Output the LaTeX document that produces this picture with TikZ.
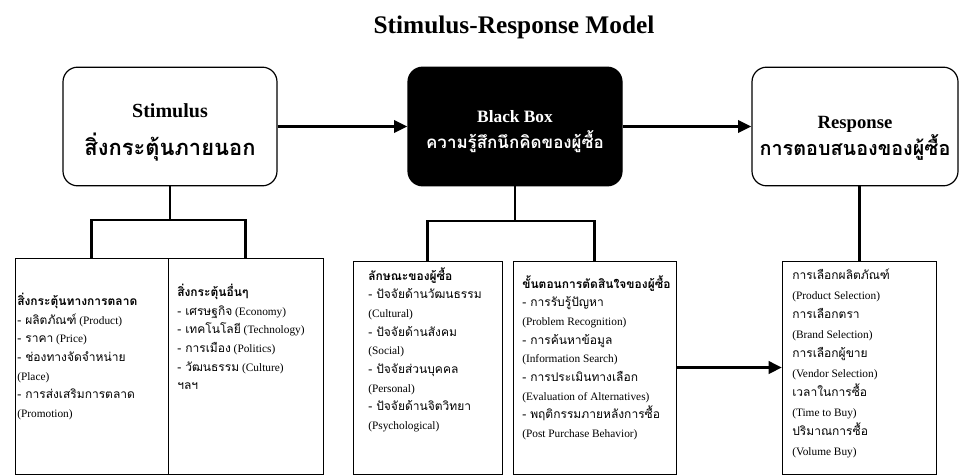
\documentclass[tikz,border=0pt]{standalone}
\usepackage{fontspec}
\setmainfont{Liberation Serif}
\newfontfamily\thaifont[Script=Thai, Scale=1.06]{Loma}
\newcommand\tha[1]{{\thaifont #1}}
\usetikzlibrary{positioning, arrows.meta, fit}
\tikzset{
topbox/.style={draw, line width=0.9pt, rounded corners=11pt, minimum width=160.5pt, minimum height=89pt, align=center}, % the three big boxes
listbox/.style={draw, line width=0.7pt, inner sep=0pt}, % the frames at the bottom
listtext/.style={inner sep=0pt, align=left, anchor=north west, font=\fontsize{8.5}{14}\selectfont}, % text inside the frames
link/.style={line width=2.2pt}, % the tree lines
arr/.style={line width=2.5pt, -{Triangle[length=10pt, width=9pt]}}, % the fat arrows
}

\begin{document}
\begin{tikzpicture}[x=0.75pt, y=-0.75pt]
        \useasboundingbox (0,0) rectangle (959,475);

        \node[font=\bfseries\fontsize{19}{22}\selectfont] (title) at (514,27) {Stimulus-Response Model};

        % top row
        \node[topbox] (stim) at (170,126.5) {{\bfseries\fontsize{15}{18}\selectfont\rule{0pt}{19pt}Stimulus}\\[10pt]\tha{\bfseries\fontsize{15.5}{18}\selectfont สิ่งกระตุ้นภายนอก}};
        \node[topbox, fill=black, text=white] (bb) at (515,126.5) {{\bfseries\fontsize{13}{16}\selectfont\rule{0pt}{17pt}Black Box}\\[5pt]\tha{\bfseries\fontsize{12}{16}\selectfont ความรู้สึกนึกคิดของผู้ซื้อ}};
        \node[topbox, minimum width=154.5pt] (resp) at (855,126.5) {{\bfseries\fontsize{14}{17}\selectfont\rule{0pt}{27pt}Response}\\[0pt]\tha{\bfseries\fontsize{14}{18}\selectfont การตอบสนองของผู้ซื้อ}};

        % bottom frames
        \node[listbox, fit={(15,258) (168,474)}] (mkt) {};
        \node[listbox, fit={(168,258) (323,474)}] (oth) {};
        \node[listbox, fit={(353,261) (502,474)}] (buy) {};
        \node[listbox, fit={(513,261) (676,474)}] (dec) {};
        \node[listbox, fit={(782.5,261) (936.5,474)}] (sel) {};

        \node[listtext] (mktt) at (17,293) {\tha{\bfseries สิ่งกระตุ้นทางการตลาด}\\
              \tha{- ผลิตภัณฑ์} (Product)\\
              \tha{- ราคา} (Price)\\
              \tha{- ช่องทางจัดจำหน่าย}\\
              (Place)\\
              \tha{- การส่งเสริมการตลาด}\\
              (Promotion)};
        \node[listtext] (otht) at (177,284) {\tha{\bfseries สิ่งกระตุ้นอื่นๆ}\\
              \tha{- เศรษฐกิจ} (Economy)\\
              \tha{- เทคโนโลยี} (Technology)\\
              \tha{- การเมือง} (Politics)\\
              \tha{- วัฒนธรรม} (Culture)\\
              \tha{ฯลฯ}};
        \node[listtext] (buyt) at (368,267) {\tha{\bfseries ลักษณะของผู้ซื้อ}\\
              \tha{- ปัจจัยด้านวัฒนธรรม}\\
              (Cultural)\\
              \tha{- ปัจจัยด้านสังคม}\\
              (Social)\\
              \tha{- ปัจจัยส่วนบุคคล}\\
              (Personal)\\
              \tha{- ปัจจัยด้านจิตวิทยา}\\
              (Psychological)};
        \node[listtext] (dect) at (522,275) {\tha{\bfseries ขั้นตอนการตัดสินใจของผู้ซื้อ}\\
              \tha{- การรับรู้ปัญหา}\\
              (Problem Recognition)\\
              \tha{- การค้นหาข้อมูล}\\
              (Information Search)\\
              \tha{- การประเมินทางเลือก}\\
              (Evaluation of Alternatives)\\
              \tha{- พฤติกรรมภายหลังการซื้อ}\\
              (Post Purchase Behavior)};
        \node[listtext, font=\fontsize{8.5}{14.6}\selectfont] (selt) at (792,269) {\tha{การเลือกผลิตภัณฑ์}\\
              (Product Selection)\\
              \tha{การเลือกตรา}\\
              (Brand Selection)\\
              \tha{การเลือกผู้ขาย}\\
              (Vendor Selection)\\
              \tha{เวลาในการซื้อ}\\
              (Time to Buy)\\
              \tha{ปริมาณการซื้อ}\\
              (Volume Buy)};

        % tree lines
        \coordinate (sj) at (170,220);
        \coordinate (bj) at (515,221);
        \draw[link] (stim) -- (sj);
        \draw[link] (mkt.north) |- (sj) -| (oth.north);
        \draw[link] (bb) -- (bj);
        \draw[link] (buy.north) |- (bj) -| (dec.north);
        \draw[link] (resp.south -| sel.north) -- (sel.north);

        % arrows
        \draw[arr] (stim) -- (bb);
        \draw[arr] (bb) -- (resp);
        \draw[arr] (dec) -- (sel);

    \end{tikzpicture}
\end{document}
